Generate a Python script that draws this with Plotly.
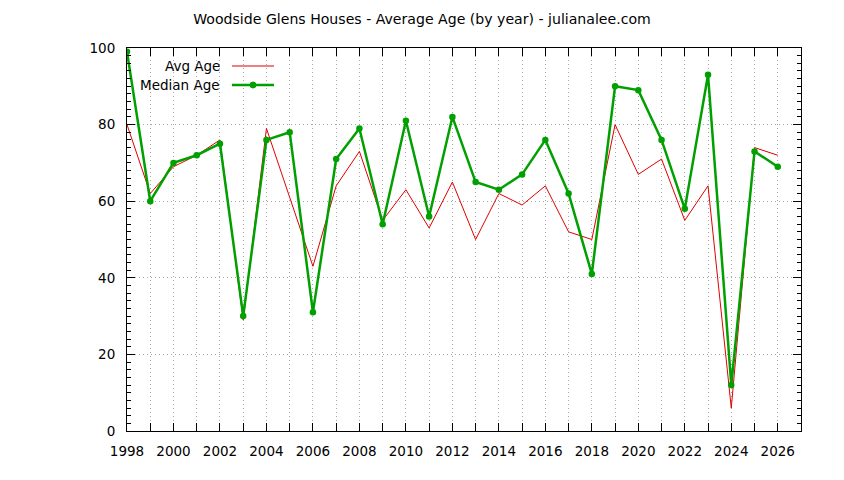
import plotly.graph_objects as go

years = list(range(1998, 2027))
avg_age = [80, 62, 69, 72, 76, 29, 79, 61, 43, 64, 73, 55, 63, 53, 65, 50, 62, 59, 64, 52, 50, 80, 67, 71, 55, 64, 6, 74, 72]
median_age = [99, 60, 70, 72, 75, 30, 76, 78, 31, 71, 79, 54, 81, 56, 82, 65, 63, 67, 76, 62, 41, 90, 89, 76, 58, 93, 12, 73, 69]
title_text = "Woodside Glens Houses - Average Age (by year) - julianalee.com"
legend_names = ["Avg Age", "Median Age"]

RED = "#e00000"
GREEN = "#00a000"
GRID = "#a8a8a8"
FONT = "DejaVu Sans"

OFF = 8  # page body margin offset
W, H = 844, 480
L, T = 127 - OFF, 48 - OFF
Rp, Bp = 801 - OFF, 431 - OFF
R, B = W - Rp, H - Bp
pw, ph = Rp - L, Bp - T

fig = go.Figure()
fig.add_trace(go.Scatter(x=years, y=avg_age, mode="lines", name=legend_names[0],
                         line=dict(color=RED, width=1), showlegend=False))
fig.add_trace(go.Scatter(x=years, y=median_age, mode="lines+markers", name=legend_names[1],
                         line=dict(color=GREEN, width=2.5),
                         marker=dict(color=GREEN, size=6.5, symbol="circle"), showlegend=False))

def px_x(p):
    return (p - OFF - L) / pw

def px_y(p):
    return 1 - (p - OFF - T) / ph

# manual gnuplot-style legend (text right-aligned, sample on right)
rows = [(66, legend_names[0], RED, 1, False), (85, legend_names[1], GREEN, 2.5, True)]
for yp, name, col, w, mk in rows:
    fig.add_annotation(x=px_x(222), y=px_y(yp), xref="paper", yref="paper", text=name,
                       showarrow=False, xanchor="right", yanchor="middle",
                       font=dict(family=FONT, size=13.5, color="black"))
    fig.add_shape(type="line", xref="paper", yref="paper", x0=px_x(232), x1=px_x(274),
                  y0=px_y(yp), y1=px_y(yp), line=dict(color=col, width=w))
    if mk:
        fig.add_shape(type="circle", xref="paper", yref="paper",
                      x0=px_x(250), x1=px_x(256), y0=px_y(yp - 3), y1=px_y(yp + 3),
                      fillcolor=col, line=dict(color=col, width=1))

fig.update_layout(
    width=W, height=H,
    margin=dict(l=L, r=R, t=T, b=B, pad=0, autoexpand=False),
    paper_bgcolor="white", plot_bgcolor="white",
    font=dict(family=FONT, size=13.5, color="black"),
    title=dict(text=title_text, x=(W / 2 - OFF) / W, xanchor="center",
               y=1 - (19 - OFF) / H, yanchor="middle",
               font=dict(family=FONT, size=14.1, color="black")),
)
fig.update_xaxes(
    range=[1998, 2027], tickmode="linear", tick0=1998, dtick=2,
    showline=True, linecolor="black", linewidth=1, mirror="allticks",
    ticks="inside", ticklen=8, tickcolor="black", ticklabelstandoff=8,
    showgrid=True, gridcolor=GRID, griddash="1px,3px", gridwidth=1,
    minor=dict(dtick=1, tick0=1998, ticks="inside", ticklen=8, tickcolor="black",
               showgrid=True, gridcolor=GRID, griddash="1px,3px", gridwidth=1),
    zeroline=False, tickfont=dict(family=FONT, size=13.5),
)
fig.update_yaxes(
    range=[0, 100], tickmode="linear", tick0=0, dtick=20,
    showline=True, linecolor="black", linewidth=1, mirror="allticks",
    ticks="inside", ticklen=8, tickcolor="black", ticklabelstandoff=8,
    showgrid=True, gridcolor=GRID, griddash="1px,3px", gridwidth=1,
    minor=dict(dtick=2, tick0=0, ticks="inside", ticklen=4, tickcolor="black", showgrid=False),
    zeroline=False, tickfont=dict(family=FONT, size=13.5),
)

fig.write_html("out.html")
